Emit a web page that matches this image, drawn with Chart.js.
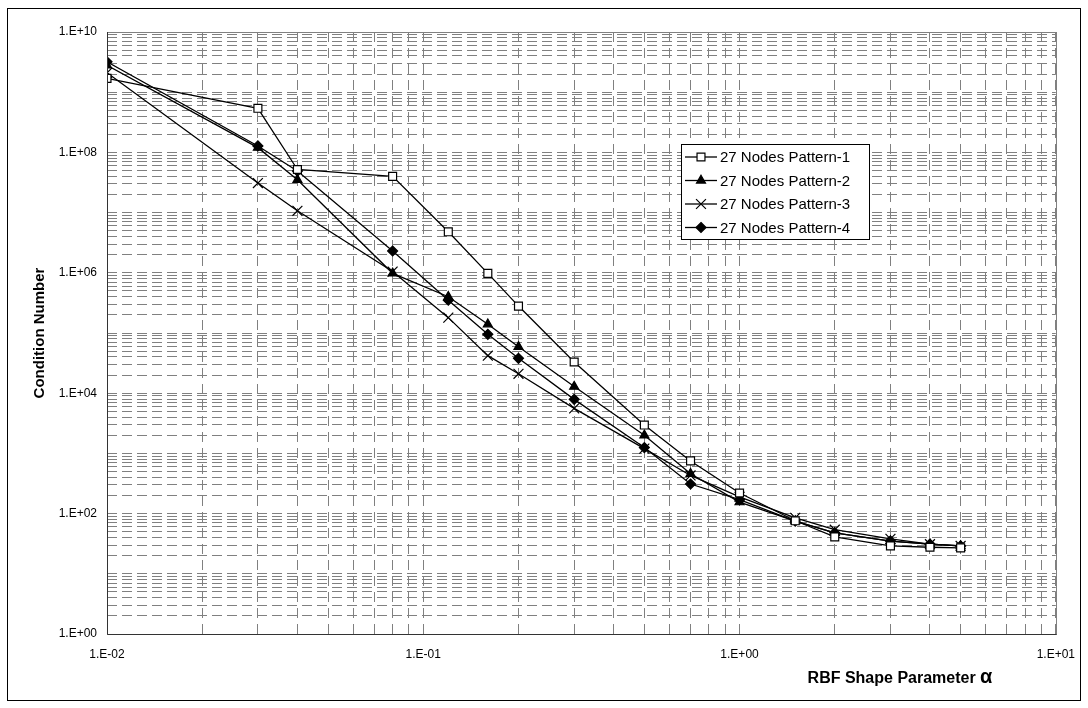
<!DOCTYPE html>
<html>
<head>
<meta charset="utf-8">
<script src="https://cdn.jsdelivr.net/npm/chart.js"></script>
<style>
html,body{margin:0;padding:0;background:#fff;}
canvas{display:block;}
</style>
</head>
<body>
<canvas id="chart" width="1088" height="708"></canvas>
<script>
// alpha values and condition numbers
const alphaValues=[0.01,0.03,0.04,0.08,0.12,0.16,0.2,0.3,0.5,0.7,1,1.5,2,3,4,5];
const pattern1=[1.7e9,5.4e8,5.2e7,4.0e7,4.8e6,9.8e5,2.8e5,3.3e4,2.96e3,7.5e2,2.2e2,76,41,29,27.6,27];
const pattern2=[2.8e9,1.2e8,3.5e7,9.8e5,4.0e5,1.4e5,5.9e4,1.29e4,2.0e3,4.6e2,1.55e2,75,48,35,31,29];
const pattern3=[2.1e9,3.1e7,1.07e7,1.05e6,1.8e5,4.2e4,2.1e4,5.6e3,1.2e3,4.3e2,1.9e2,85,54,38,31,29];
const pattern4=[3.2e9,1.28e8,4.9e7,2.3e6,3.5e5,9.5e4,3.8e4,7.9e3,1.25e3,3.1e2,1.7e2,75,48,35,31,29];

const seriesNames=["27 Nodes Pattern-1","27 Nodes Pattern-2","27 Nodes Pattern-3","27 Nodes Pattern-4"];
const xTitle="RBF Shape Parameter ";
const xTitleSymbol="\u03b1";
const yTitle="Condition Number";

const FONT="'Liberation Sans', Arial, sans-serif";

function pts(arr){
return alphaValues.map((x,i)=>({x:x,y:arr[i]}));
}

function logTicks(lo,hi){
let t=[];
for(let e=lo;e<hi;e++){
for(let s=1;s<10;s++) t.push({value:s*Math.pow(10,e)});
}
t.push({value:Math.pow(10,hi)});
return t;
}

function fmtExp(v){
let e=Math.round(Math.log10(v));
return "1.E"+(e<0?"-":"+")+String(Math.abs(e)).padStart(2,"0");
}

function isDecade(v){
let l=Math.log10(v);
return Math.abs(l-Math.round(l))<1e-9;
}

const styles=[
{pointStyle:"rect",radius:5.6,bg:"#ffffff"},
{pointStyle:"triangle",radius:5.2,bg:"#000000"},
{pointStyle:"crossRot",radius:7,bg:"#000000"},
{pointStyle:"rectRot",radius:5,bg:"#000000"}
];

function makeSet(i,arr){
return {
label:seriesNames[i],
data:pts(arr),
borderColor:"#000",
borderWidth:1.3,
backgroundColor:styles[i].bg,
pointStyle:styles[i].pointStyle,
pointRadius:styles[i].radius,
pointBackgroundColor:styles[i].bg,
pointBorderColor:"#000",
pointBorderWidth:1.2,
tension:0,
fill:false
};
}

function marker(ctx,st,x,y){
ctx.save();
ctx.fillStyle=st.bg;
ctx.strokeStyle="#000";
ctx.lineWidth=1.2;
let r=st.radius;
ctx.beginPath();
if(st.pointStyle==="rect"){
let s=r*Math.SQRT1_2;
ctx.rect(x-s,y-s,2*s,2*s);
ctx.fill();ctx.stroke();
}else if(st.pointStyle==="triangle"){
ctx.moveTo(x,y-r);
ctx.lineTo(x+r*0.866,y+r*0.5);
ctx.lineTo(x-r*0.866,y+r*0.5);
ctx.closePath();
ctx.fill();ctx.stroke();
}else if(st.pointStyle==="crossRot"){
let s=r*Math.SQRT1_2;
ctx.moveTo(x-s,y-s);ctx.lineTo(x+s,y+s);
ctx.moveTo(x+s,y-s);ctx.lineTo(x-s,y+s);
ctx.stroke();
}else{
ctx.moveTo(x,y-r);ctx.lineTo(x+r,y);ctx.lineTo(x,y+r);ctx.lineTo(x-r,y);
ctx.closePath();
ctx.fill();ctx.stroke();
}
ctx.restore();
}

const decor={
id:"decor",
beforeDraw(chart){
const ctx=chart.ctx;
ctx.save();
ctx.fillStyle="#fff";
ctx.fillRect(0,0,chart.width,chart.height);
ctx.restore();
},
afterDatasetsDraw(chart){
const ctx=chart.ctx;
const a=chart.chartArea;
ctx.save();
// plot frame
ctx.strokeStyle="#808080";
ctx.lineWidth=1;
ctx.strokeRect(Math.round(a.left)+0.5,Math.round(a.top)+0.5,Math.round(a.right-a.left),Math.round(a.bottom-a.top));
ctx.strokeStyle="#333";
ctx.beginPath();
ctx.moveTo(Math.round(a.left)+0.5,Math.round(a.top));
ctx.lineTo(Math.round(a.left)+0.5,Math.round(a.bottom)+0.5);
ctx.lineTo(Math.round(a.right)+0.5,Math.round(a.bottom)+0.5);
ctx.stroke();

// outer frame
ctx.strokeStyle="#000";
ctx.strokeRect(7.5,8.5,1073,692);

// legend
let lx=681,ly=144,lw=188,lh=95;
ctx.fillStyle="#fff";
ctx.fillRect(lx,ly,lw,lh);
ctx.strokeStyle="#000";
ctx.strokeRect(lx+0.5,ly+0.5,lw,lh);
let rows=[157,180.5,204,227.5];
ctx.font="15px "+FONT;
ctx.textBaseline="middle";
ctx.textAlign="left";
chart.data.datasets.forEach((d,i)=>{
let y=rows[i];
ctx.strokeStyle="#000";
ctx.lineWidth=1.3;
ctx.beginPath();
ctx.moveTo(685,y);ctx.lineTo(717,y);
ctx.stroke();
marker(ctx,styles[i],701,y);
ctx.fillStyle="#000";
ctx.fillText(d.label,720,y+1);
});

// axis titles
ctx.fillStyle="#000";
ctx.textBaseline="alphabetic";
ctx.textAlign="left";
ctx.font="bold 16px "+FONT;
let w1=ctx.measureText(xTitle).width;
ctx.font="bold 20px "+FONT;
let w2=ctx.measureText(xTitleSymbol).width;
let x0=900-(w1+w2)/2;
ctx.font="bold 16px "+FONT;
ctx.fillText(xTitle,x0,683);
ctx.font="bold 20px "+FONT;
ctx.fillText(xTitleSymbol,x0+w1,683);

ctx.font="bold 15px "+FONT;
ctx.textAlign="center";
ctx.textBaseline="middle";
ctx.translate(40,333);
ctx.rotate(-Math.PI/2);
ctx.fillText(yTitle,0,0);
ctx.restore();
}
};

const gridOpts={
color:"#808080",
lineWidth:1,
drawTicks:false
};

new Chart(document.getElementById("chart"),{
type:"line",
data:{
datasets:[
makeSet(0,pattern1),
makeSet(1,pattern2),
makeSet(2,pattern3),
makeSet(3,pattern4)
]
},
options:{
responsive:false,
maintainAspectRatio:false,
animation:false,
layout:{padding:{left:0,right:31,top:32,bottom:0}},
plugins:{
legend:{display:false},
tooltip:{enabled:false}
},
scales:{
x:{
type:"logarithmic",
min:0.01,
max:10,
afterBuildTicks:s=>{s.ticks=logTicks(-2,1);},
afterFit:s=>{s.height=74;},
grid:gridOpts,
border:{display:false,dash:[10,6]},
ticks:{
autoSkip:false,
maxRotation:0,
padding:13,
color:"#000",
font:{family:FONT,size:12},
callback:v=>isDecade(v)?fmtExp(v):""
}
},
y:{
type:"logarithmic",
min:1,
max:1e10,
afterBuildTicks:s=>{s.ticks=logTicks(0,10);},
afterFit:s=>{s.width=107;},
grid:gridOpts,
border:{display:false,dash:[10,5]},
ticks:{
autoSkip:false,
padding:10,
color:"#000",
font:{family:FONT,size:12},
callback:v=>{
if(!isDecade(v)) return "";
let e=Math.round(Math.log10(v));
return e%2===0?fmtExp(v):"";
}
}
}
}
},
plugins:[decor]
});
</script>
</body>
</html>
